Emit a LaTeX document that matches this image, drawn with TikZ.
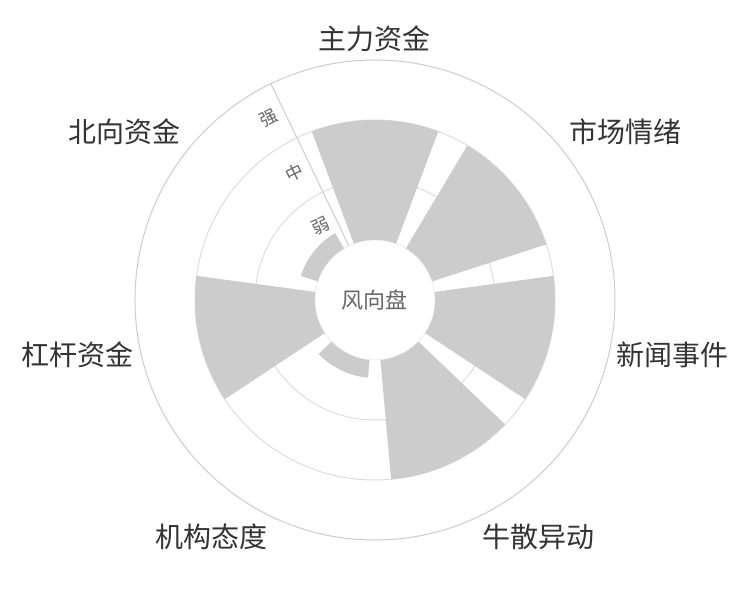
\documentclass[tikz,border=0pt]{standalone}
\usepackage{fontspec}
\setmainfont{Noto Sans CJK SC}
\definecolor{bargray}{HTML}{CCCCCC}
\definecolor{gridgray}{HTML}{DDDDDD}
\definecolor{rimgray}{HTML}{CCCCCC}
\definecolor{labeldark}{HTML}{333333}
\definecolor{labelgray}{HTML}{666666}

\begin{document}
\begin{tikzpicture}[x=1pt,y=1pt]
	\tikzstyle{bar}=[fill=bargray]
	\tikzstyle{grid}=[draw=gridgray,line width=1pt]
	\tikzstyle{dir}=[text=labeldark,font=\fontsize{28}{28}\selectfont,inner sep=0pt]
	\tikzstyle{level}=[text=labelgray,font=\fontsize{17.5}{17.5}\selectfont,inner sep=0pt]
	\useasboundingbox (-375,-300) rectangle (375,300);
	\draw[grid] (0,0) circle (120);
	\draw[grid] (0,0) circle (180);
	\draw[draw=rimgray,line width=1pt] (0,0) circle (240);
	\draw[draw=rimgray,line width=1pt] (115.71:60) -- (115.71:240);
	\foreach \a/\r in {90/180, 38.57/180, -12.86/180, -64.29/180, -115.71/78, -167.14/180, 141.43/78}
		\fill[bar] ({\a-20.57}:60) arc[start angle={\a-20.57}, end angle={\a+20.57}, radius=60] -- ({\a+20.57}:\r) arc[start angle={\a+20.57}, end angle={\a-20.57}, radius=\r] -- cycle;
	\node[circle,draw=gridgray,fill=white,minimum size=120,inner sep=0pt,text=labelgray,font=\fontsize{22}{22}\selectfont] (hub) at (0,0) {风向盘};
	\begin{scope}[rotate=25.71,transform shape]
		\node[level] (ruo) at (-17,90) {弱};
		\node[level] (zhong) at (-17,150) {中};
		\node[level] (qiang) at (-17,210) {强};
	\end{scope}
	\node[dir,anchor=south] (zhuli) at (90:248) {主力资金};
	\node[dir,anchor=south west] (shichang) at (38.57:248) {市场情绪};
	\node[dir,anchor=west] (xinwen) at (-12.86:248) {新闻事件};
	\node[dir,anchor=north west] (niusan) at (-64.29:248) {牛散异动};
	\node[dir,anchor=north east] (jigou) at (-115.71:248) {机构态度};
	\node[dir,anchor=east] (ganggan) at (-167.14:248) {杠杆资金};
	\node[dir,anchor=south east] (beixiang) at (141.43:248) {北向资金};
\end{tikzpicture}
\end{document}
